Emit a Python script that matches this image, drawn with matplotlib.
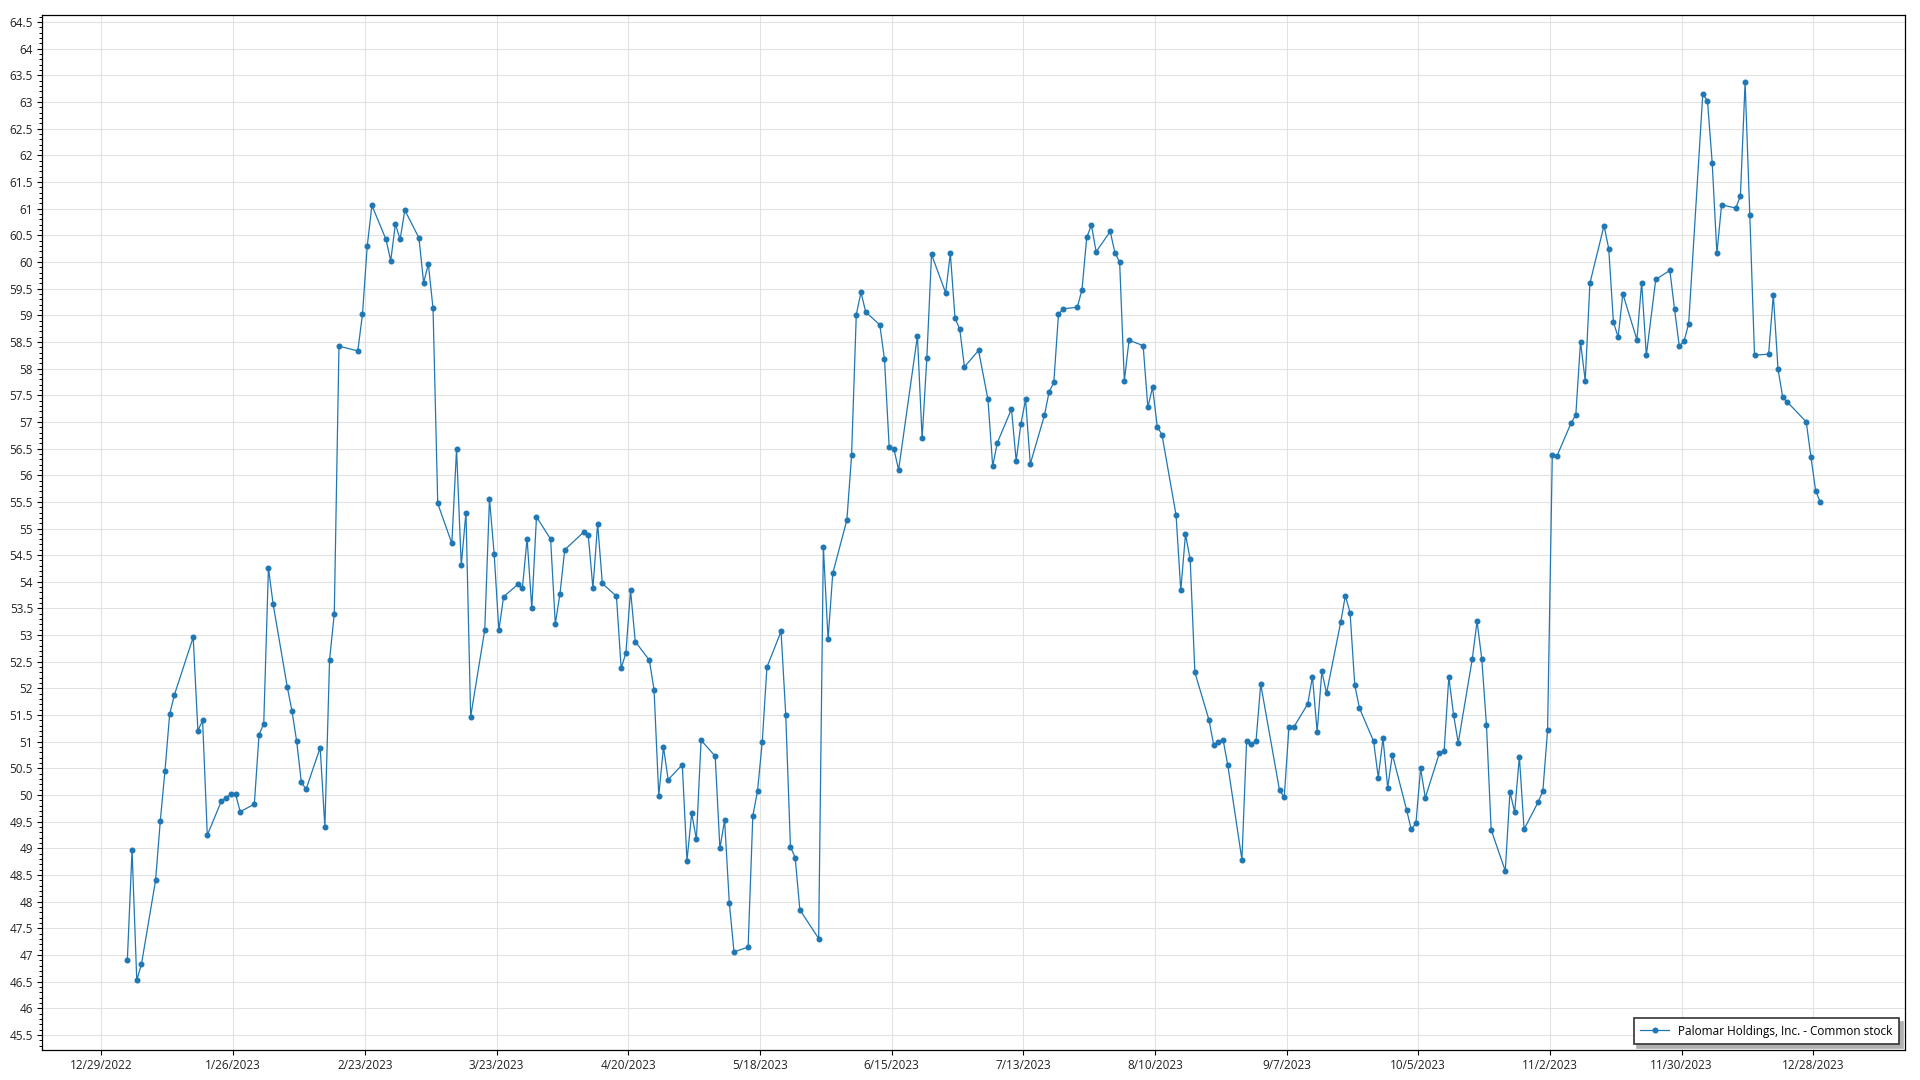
import matplotlib
matplotlib.use('Agg')
import matplotlib.pyplot as plt
from matplotlib.ticker import MultipleLocator, FuncFormatter
import pandas as pd

# NYSE closed days in 2023 (data is one point per trading day)
holidays_2023 = ['2023-01-02', '2023-01-16', '2023-02-20', '2023-04-07', '2023-05-29',
                 '2023-06-19', '2023-07-04', '2023-09-04', '2023-11-23', '2023-12-25']

# closing prices, month by month
jan = [46.91, 48.97, 46.53, 46.83, 48.40, 49.51, 50.46, 51.52, 51.88, 52.96,
       51.21, 51.40, 49.25, 49.89, 49.95, 50.02, 50.02, 49.69, 49.83, 51.13]
feb = [51.34, 54.26, 53.58, 52.03, 51.58, 51.01, 50.24, 50.11, 50.89, 49.40,
       52.54, 53.40, 58.42, 58.33, 59.02, 60.29, 61.06, 60.42, 60.02]
mar = [60.71, 60.42, 60.97, 60.45, 59.61, 59.96, 59.13, 55.47, 54.72, 56.49, 54.31, 55.30,
       51.47, 53.10, 55.56, 54.52, 53.09, 53.72, 53.95, 53.88, 54.81, 53.50, 55.22]
apr = [54.80, 53.21, 53.78, 54.60, 54.93, 54.88, 53.88, 55.09, 53.97, 53.73,
       52.38, 52.66, 53.84, 52.88, 52.53, 51.97, 49.99, 50.90, 50.29]
may = [50.57, 48.77, 49.66, 49.17, 51.03, 50.73, 49.00, 49.53, 47.98, 47.06, 47.15,
       49.61, 50.08, 50.99, 52.40, 53.07, 51.51, 49.03, 48.83, 47.85, 47.31, 54.66]
jun = [52.92, 54.16, 55.16, 56.37, 59.01, 59.43, 59.06, 58.82, 58.17, 56.52, 56.49,
       56.10, 58.61, 56.69, 58.19, 60.14, 59.42, 60.16, 58.94, 58.74, 58.03]
jul = [58.34, 57.42, 56.17, 56.61, 57.24, 56.27, 56.96, 57.42, 56.21, 57.12,
       57.56, 57.74, 59.02, 59.12, 59.15, 59.48, 60.46, 60.69, 60.19, 60.57]
aug = [60.17, 60.00, 57.77, 58.53, 58.43, 57.27, 57.65, 56.91, 56.76, 55.25, 53.84, 54.89,
       54.42, 52.30, 51.41, 50.94, 51.00, 51.04, 50.56, 48.79, 51.02, 50.96, 51.01]
sep = [52.08, 50.09, 49.96, 51.27, 51.27, 51.71, 52.22, 51.19, 52.32, 51.91,
       53.24, 53.74, 53.42, 52.06, 51.63, 51.01, 50.33, 51.07, 50.14, 50.76]
oct_ = [49.73, 49.36, 49.47, 50.50, 49.95, 50.79, 50.82, 52.22, 51.51, 50.98, 52.56,
        53.26, 52.56, 51.32, 49.35, 48.58, 50.06, 49.68, 50.72, 49.36, 49.87, 50.08]
nov = [51.22, 56.37, 56.36, 56.98, 57.13, 58.50, 57.77, 59.60, 60.68, 60.25, 58.87,
       58.59, 59.40, 58.54, 59.61, 58.25, 59.67, 59.84, 59.11, 58.42, 58.51]
dec = [58.84, 63.15, 63.02, 61.86, 60.16, 61.07, 61.01, 61.23, 63.37, 60.88,
       58.25, 58.27, 59.38, 57.99, 57.46, 57.37, 57.00, 56.34, 55.71, 55.49]

prices = jan + feb + mar + apr + may + jun + jul + aug + sep + oct_ + nov + dec
# points sit about half a day right of the date ticks in the original
dates = pd.bdate_range('2023-01-03', '2023-12-29', freq='C', holidays=holidays_2023) + pd.Timedelta(hours=12)

series_name = 'Palomar Holdings, Inc. - Common stock'
tick_dates = pd.date_range('2022-12-29', periods=14, freq='28D')
tick_labels = [f'{d.month}/{d.day}/{d.year}' for d in tick_dates]

plt.rcParams['font.family'] = ['Open Sans', 'DejaVu Sans']
plt.rcParams['font.size'] = 8.5

fig = plt.figure(figsize=(19.2, 10.8), dpi=100)
ax = fig.add_axes([0.021875, 0.02778, 0.97031, 0.95833])

ax.plot(dates, prices, color='#1f77b4', linewidth=0.9, marker='o', markersize=3.3,
        label=series_name)

ax.set_xlim(pd.Timestamp('2022-12-29') - pd.Timedelta(days=12.65),
            pd.Timestamp('2022-12-29') + pd.Timedelta(days=383.5))
ax.set_ylim(45.22, 64.63)

ax.set_xticks(tick_dates)
ax.set_xticklabels(tick_labels)
ax.yaxis.set_major_locator(MultipleLocator(0.5))
ax.yaxis.set_minor_locator(MultipleLocator(0.1))
ax.yaxis.set_major_formatter(FuncFormatter(lambda v, p: f'{v:g}'))

ax.grid(True, which='major', color='#e2e2e2', linewidth=0.8)
ax.set_axisbelow(True)
ax.tick_params(axis='both', which='major', length=3.5, width=0.8, colors='black',
               labelcolor='#222222', pad=3)
ax.tick_params(axis='y', which='minor', length=2, width=0.7)
for s in ax.spines.values():
    s.set_linewidth(0.9)
    s.set_color('black')

leg = ax.legend(loc='lower right', fancybox=False, framealpha=1, edgecolor='#333333',
                shadow={'color': '#b0b0b0', 'alpha': 1, 'ox': 2.5, 'oy': -2.5},
                handlelength=2.4, borderaxespad=0.5, borderpad=0.55)
leg.get_frame().set_linewidth(1.2)

plt.savefig('out.png', dpi=100)
